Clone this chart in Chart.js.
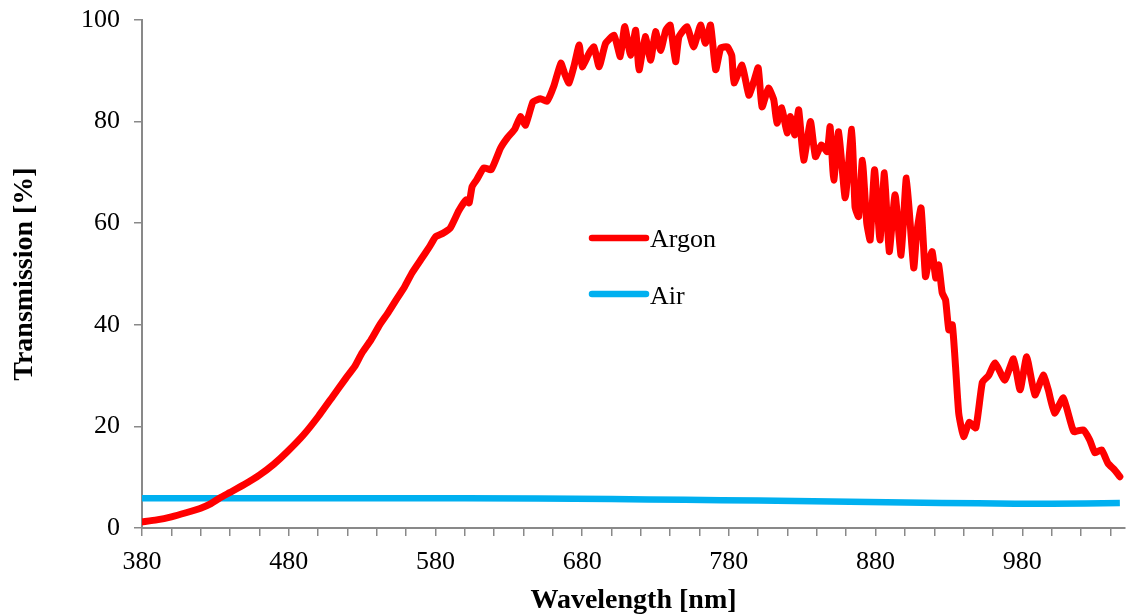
<!DOCTYPE html>
<html>
<head>
<meta charset="utf-8">
<script src="https://cdn.jsdelivr.net/npm/chart.js@4.4.0/dist/chart.umd.min.js"></script>
<style>
html,body{margin:0;padding:0;background:#fff;}
#wrap{width:1126px;height:615px;position:relative;}
</style>
</head>
<body>
<div id="wrap"><canvas id="c" width="1126" height="615"></canvas></div>
<script>
// ---- data ----
const argonWl = [380,390,400,410,420,427,433,440,450,460,470,479,490,500,510,519,525,530,536,542,548,553,559,564,570,576,580,585,590,596,601,603,605,608,613,618,624.4,629,634,638,641.4,646.5,651.7,656,660.7,665.5,668,671,674.6,678,680,684.8,688,691.6,696,701.8,706,709,713,716.5,718.8,723,726.7,730,733.5,737,740,743.7,746,751.5,756,760.7,764,767.5,771,774.5,779,782,783.5,789,793.6,797,800,802.6,807,810.6,812.8,816,819.7,822,825,827.6,831,835.6,839,843,847,849,851.5,854.8,859.3,863.8,866,868.4,871,874,876.3,879.3,883,886,889.3,893.3,897.4,901,906,908,911,914,916,918.6,921,923,925.4,927.7,929.9,932.3,934.5,936.7,940,943.8,948.3,952.8,957,961.5,968,974,978.5,983,988.6,994.3,997.7,1002,1008,1015,1021.5,1026,1029.5,1034,1038.5,1043,1046.5];
const argonT  = [1.2,1.6,2.2,3.0,3.9,4.8,5.9,7.0,8.6,10.4,12.6,15.0,18.3,21.9,25.9,29.5,31.8,34.5,37.0,40.0,42.5,44.8,47.5,50.2,52.8,55.4,57.3,58.0,59.0,62.5,64.6,64.0,67.2,68.5,70.9,70.5,74.8,76.8,78.5,81.0,79.3,83.9,84.5,84.0,87.0,91.5,89.5,87.6,91.1,95.1,90.8,93.5,94.7,90.8,95.4,97.0,92.8,98.7,93.1,98.0,90.2,96.7,92.1,97.7,94.0,98.0,99.0,91.8,96.7,98.7,94.7,99.0,95.4,99.0,90.2,94.5,94.7,93.0,87.6,91.1,85.2,87.9,90.6,82.9,86.6,84.3,79.7,82.7,77.8,81.0,77.4,82.3,72.4,80.0,73.1,75.4,74.1,79.0,68.5,78.0,65.0,78.5,63.2,61.3,72.4,60.0,56.7,70.5,56.7,69.9,54.4,65.6,53.7,68.9,51.2,58.0,63.0,49.5,52.2,54.4,49.2,51.8,46.3,44.9,39.0,40.0,31.8,22.5,18.0,20.8,19.7,28.7,30.0,32.5,29.1,33.3,27.2,33.7,26.2,30.1,27.2,22.6,25.6,19.0,19.3,17.3,14.8,15.4,12.7,11.4,10.1];
const airWl = [380,450,550,650,700,750,800,850,900,950,1000,1046.5];
const airT  = [5.85,5.85,5.85,5.8,5.7,5.55,5.4,5.2,5.0,4.85,4.75,4.9];
const xTickLabels = [380,480,580,680,780,880,980];
const xMinorStep = 20;
const yTickValues = [0,20,40,60,80,100];
const seriesNames = ['Argon','Air'];

const SERIF = '"Liberation Serif","Times New Roman",serif';
const AXIS_GRAY = '#898989';

const toPts = (xs, ys) => xs.map((x, i) => ({x: x, y: ys[i]}));

const legendPlugin = {
  id: 'innerLegend',
  afterDatasetsDraw(chart) {
    const ctx = chart.ctx;
    const items = [
      {name: seriesNames[0], color: chart.data.datasets[0].borderColor, y: 238, base: 247},
      {name: seriesNames[1], color: chart.data.datasets[1].borderColor, y: 294, base: 304}
    ];
    ctx.save();
    items.forEach(it => {
      ctx.beginPath();
      ctx.lineCap = 'round';
      ctx.lineWidth = 6.5;
      ctx.strokeStyle = it.color;
      ctx.moveTo(592, it.y);
      ctx.lineTo(646, it.y);
      ctx.stroke();
      ctx.fillStyle = '#000';
      ctx.font = '26px ' + SERIF;
      ctx.textBaseline = 'alphabetic';
      ctx.textAlign = 'left';
      ctx.fillText(it.name, 650, it.base);
    });
    ctx.restore();
  }
};

new Chart(document.getElementById('c'), {
  type: 'line',
  data: {
    datasets: [
      {label: seriesNames[0], data: toPts(argonWl, argonT), borderColor: '#FF0000', borderWidth: 7,
       pointRadius: 0, tension: 0.15, borderJoinStyle: 'round', borderCapStyle: 'round', fill: false},
      {label: seriesNames[1], data: toPts(airWl, airT), borderColor: '#00B0F0', borderWidth: 6.5,
       pointRadius: 0, tension: 0.3, borderJoinStyle: 'round', borderCapStyle: 'butt', fill: false}
    ]
  },
  options: {
    responsive: false,
    animation: false,
    devicePixelRatio: 1,
    layout: {padding: {top: 20, right: 1, left: 0, bottom: 0}},
    plugins: {legend: {display: false}, tooltip: {enabled: false}},
    scales: {
      x: {
        type: 'linear',
        min: 380,
        max: 1050,
        afterBuildTicks: s => {
          const t = [];
          for (let v = 380; v <= 1040; v += xMinorStep) t.push({value: v});
          s.ticks = t;
        },
        afterFit: s => { s.height = 87; s.paddingLeft = 0; s.paddingRight = 0; },
        grid: {drawOnChartArea: false, drawTicks: true, tickLength: 8, color: AXIS_GRAY, lineWidth: 1.5},
        border: {display: true, color: AXIS_GRAY, width: 2},
        ticks: {
          autoSkip: false, maxRotation: 0, padding: 11, color: '#000',
          font: {family: SERIF, size: 26},
          callback: v => xTickLabels.includes(v) ? String(v) : ''
        },
        title: {display: true, text: 'Wavelength [nm]', color: '#000',
                font: {family: SERIF, size: 28, weight: 'bold', lineHeight: 1},
                padding: {top: 0, bottom: 0}}
      },
      y: {
        min: 0,
        max: 100,
        afterBuildTicks: s => { s.ticks = yTickValues.map(v => ({value: v})); },
        afterFit: s => { s.width = 142; s.paddingTop = 0; s.paddingBottom = 0; },
        grid: {drawOnChartArea: false, drawTicks: true, tickLength: 8, color: AXIS_GRAY, lineWidth: 1.5},
        border: {display: true, color: AXIS_GRAY, width: 2},
        ticks: {padding: 14, color: '#000', font: {family: SERIF, size: 26}},
        title: {display: true, text: 'Transmission [%]', color: '#000',
                font: {family: SERIF, size: 28, weight: 'bold', lineHeight: 1},
                padding: {top: 11, bottom: 0}}
      }
    }
  },
  plugins: [legendPlugin]
});
</script>
</body>
</html>
